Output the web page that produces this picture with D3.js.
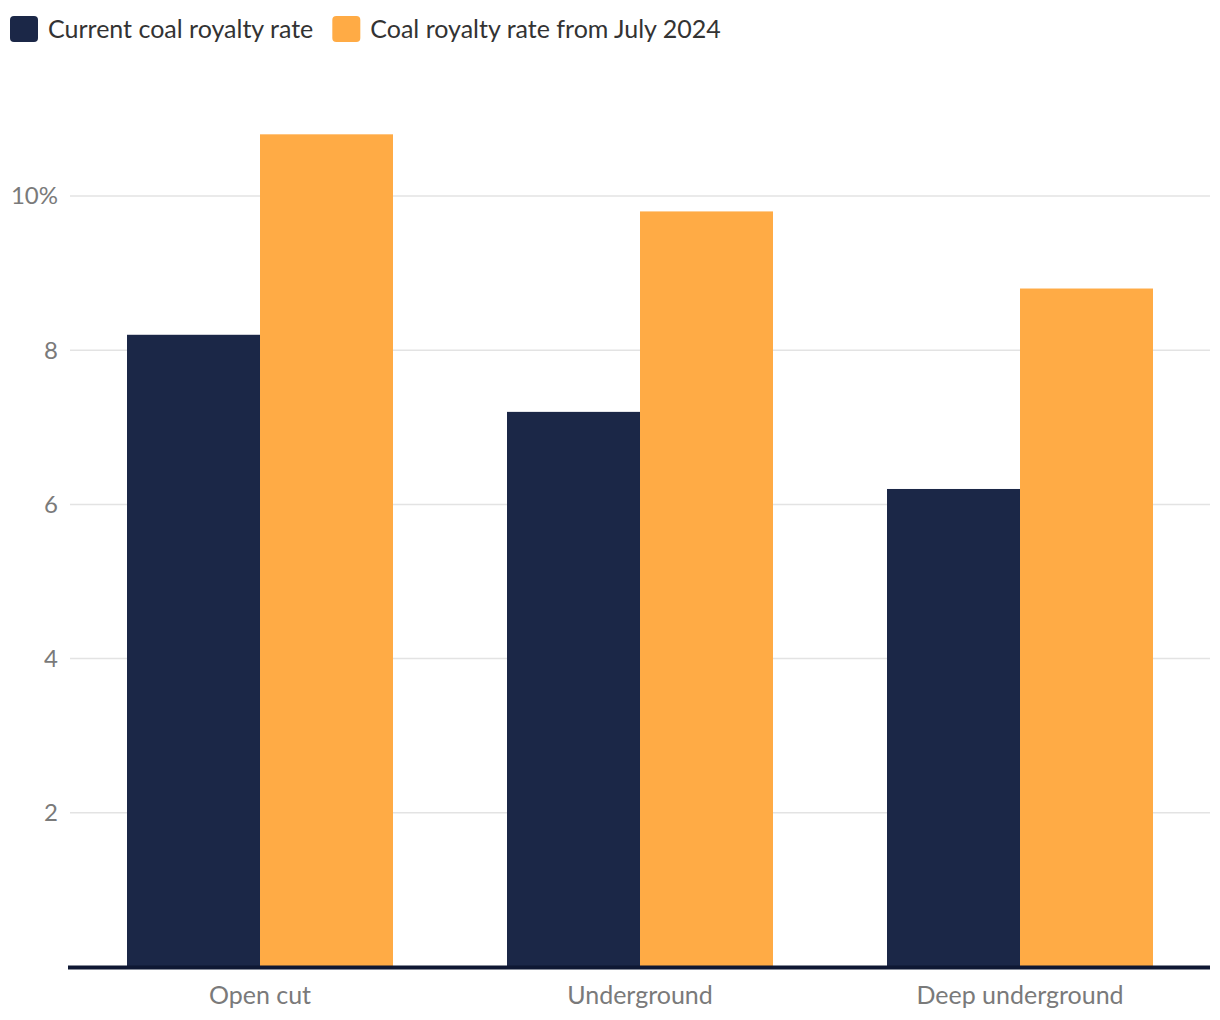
<!DOCTYPE html>
<html><head><meta charset="utf-8">
<script src="https://cdn.jsdelivr.net/npm/d3@7"></script>
<style>body{margin:0;background:#fff;} svg{display:block;font-family:Lato,"Noto Sans",sans-serif;}</style>
</head><body>
<svg id="c" width="1220" height="1020"></svg>
<script>
const categories = ["Open cut", "Underground", "Deep underground"];
const seriesNames = ["Current coal royalty rate", "Coal royalty rate from July 2024"];
const current = [8.2, 7.2, 6.2];
const fromJuly2024 = [10.8, 9.8, 8.8];
const yTicks = [2, 4, 6, 8, 10];
const colors = ["#1b2747", "#ffab45"];

const svg = d3.select("#c");
const x0 = d3.scaleBand().domain(categories).range([70, 1210]).paddingInner(0.3).paddingOuter(0.15);
const x1 = d3.scaleBand().domain([0,1]).range([0, x0.bandwidth()]);
const y = d3.scaleLinear().domain([0, 10]).range([967, 196]);

// grid
svg.append("g").selectAll("line").data(yTicks).join("line")
  .attr("x1", 70).attr("x2", 1210)
  .attr("y1", d => y(d)).attr("y2", d => y(d))
  .attr("stroke", "#e3e3e3").attr("stroke-width", 1.5);

// y labels
svg.append("g").selectAll("text").data(yTicks).join("text")
  .attr("x", 58).attr("y", d => y(d)).attr("dy", "0.35em")
  .attr("text-anchor", "end").attr("fill", "#7a7a7a").attr("font-size", 24)
  .text(d => d === 10 ? "10%" : d);

// bars
const series = [current, fromJuly2024];
series.forEach((vals, si) => {
  svg.append("g").selectAll("rect").data(categories).join("rect")
    .attr("x", (c) => x0(c) + x1(si))
    .attr("width", x1.bandwidth())
    .attr("y", (c, i) => y(vals[i]))
    .attr("height", (c, i) => y(0) - y(vals[i]))
    .attr("fill", colors[si]);
});

// x axis line
svg.append("line").attr("x1", 68).attr("x2", 1210).attr("y1", 967.5).attr("y2", 967.5)
  .attr("stroke", "#0f1833").attr("stroke-width", 4);

// x labels
svg.append("g").selectAll("text").data(categories).join("text")
  .attr("x", d => x0(d) + x0.bandwidth()/2).attr("y", 1004)
  .attr("text-anchor", "middle").attr("fill", "#7a7a7a").attr("font-size", 25)
  .text(d => d);

// legend
const leg = svg.append("g");
let lx = 10;
seriesNames.forEach((n, i) => {
  const g = leg.append("g").attr("transform", `translate(${lx},16)`);
  g.append("rect").attr("width", 28).attr("height", 26).attr("rx", 4).attr("fill", colors[i]);
  const t = g.append("text").attr("x", 38).attr("y", 13).attr("dy", "0.35em")
    .attr("font-size", 25).attr("fill", "#333").text(n);
  lx += 38 + t.node().getComputedTextLength() + 19;
});
</script>
</body></html>
